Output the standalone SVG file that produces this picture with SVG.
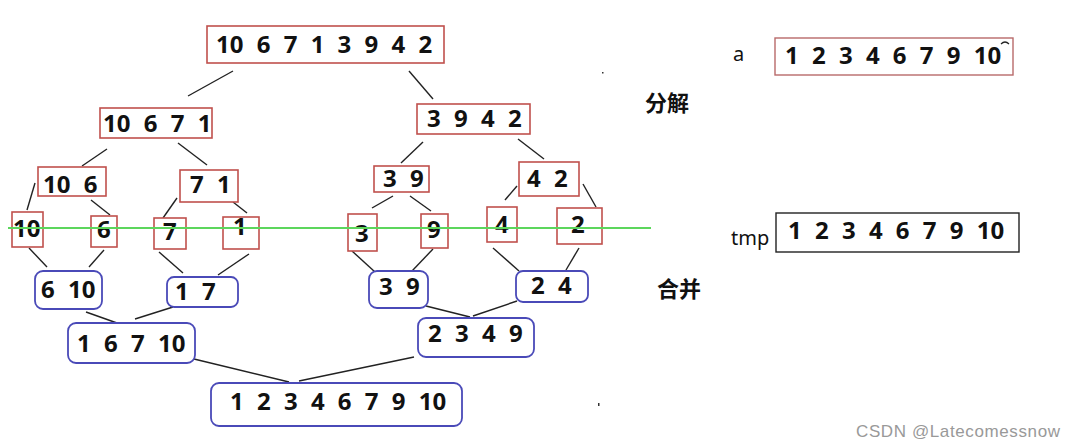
<svg xmlns="http://www.w3.org/2000/svg" width="1076" height="448" viewBox="0 0 1076 448">
<style>
.r{fill:#fff;stroke:#c0504d;stroke-width:1.6}
.b{fill:#fff;stroke:#4a4ab8;stroke-width:1.8}
.t{font-family:"Noto Sans","Open Sans",sans-serif;font-weight:bold;font-size:24px;fill:#111;word-spacing:7px}
.c line{stroke:#222;stroke-width:1.4}
.cn{font-family:"Noto Sans CJK SC","Noto Sans",sans-serif;font-weight:bold;font-size:22px;fill:#111}
.lb{font-family:"Noto Sans","Open Sans",sans-serif;font-size:20px;fill:#111}
</style>
<rect width="1076" height="448" fill="#fff"/>
<g class="c" id="connectors">
<line x1="233" y1="71" x2="188" y2="96"/>
<line x1="409" y1="71" x2="433" y2="99"/>
<line x1="107" y1="149" x2="82" y2="166"/>
<line x1="178" y1="143" x2="207" y2="165"/>
<line x1="35" y1="183" x2="27" y2="210"/>
<line x1="91" y1="200" x2="110" y2="215"/>
<line x1="177" y1="198" x2="163" y2="218"/>
<line x1="233" y1="202" x2="247" y2="213"/>
<line x1="423" y1="142" x2="401" y2="163"/>
<line x1="518" y1="139" x2="544" y2="159"/>
<line x1="393" y1="196" x2="372" y2="208"/>
<line x1="410" y1="196" x2="431" y2="211"/>
<line x1="517" y1="186" x2="505" y2="200"/>
<line x1="583" y1="184" x2="596" y2="207"/>
<line x1="29" y1="248" x2="47" y2="267"/>
<line x1="104" y1="250" x2="89" y2="267"/>
<line x1="159" y1="252" x2="183" y2="273"/>
<line x1="249" y1="254" x2="218" y2="275"/>
<line x1="352" y1="251" x2="375" y2="272"/>
<line x1="433" y1="249" x2="412" y2="271"/>
<line x1="493" y1="248" x2="519" y2="271"/>
<line x1="579" y1="248" x2="566" y2="270"/>
<line x1="86" y1="312" x2="117" y2="323"/>
<line x1="173" y1="307" x2="135" y2="319"/>
<line x1="426" y1="306" x2="470" y2="317"/>
<line x1="517" y1="301" x2="473" y2="316"/>
<line x1="194" y1="359" x2="289" y2="382"/>
<line x1="414" y1="357" x2="299" y2="381"/>
</g>
<g id="n-top"><rect class="r" x="207" y="26" width="237" height="37"/><text class="t" x="216" y="53">10 6 7 1 3 9 4 2</text></g>
<g id="n-10671"><rect class="r" x="100" y="108" width="112" height="30"/><text class="t" x="103" y="132">10 6 7 1</text></g>
<g id="n-3942"><rect class="r" x="417" y="104" width="113" height="30"/><text class="t" x="427" y="127">3 9 4 2</text></g>
<g id="n-106"><rect class="r" x="38" y="167" width="68" height="29"/><text class="t" x="43" y="193">10 6</text></g>
<g id="n-71"><rect class="r" x="180" y="170" width="58" height="32"/><text class="t" x="190" y="193">7 1</text></g>
<g id="n-39a"><rect class="r" x="374" y="166" width="55" height="26"/><text class="t" x="383" y="187">3 9</text></g>
<g id="n-42a"><rect class="r" x="519" y="162" width="60" height="34"/><text class="t" x="527" y="187">4 2</text></g>
<g id="n-10"><rect class="r" x="12" y="212" width="31" height="35"/><text class="t" x="13" y="237">10</text></g>
<g id="n-6"><rect class="r" x="91" y="216" width="26" height="31"/><text class="t" x="97" y="238">6</text></g>
<g id="n-7"><rect class="r" x="154" y="218" width="32" height="31"/><text class="t" x="163" y="240">7</text></g>
<g id="n-1"><rect class="r" x="223" y="217" width="36" height="32"/><text class="t" x="233" y="235">1</text></g>
<g id="n-3"><rect class="r" x="348" y="214" width="29" height="37"/><text class="t" x="355" y="242">3</text></g>
<g id="n-9"><rect class="r" x="421" y="214" width="27" height="34"/><text class="t" x="427" y="238">9</text></g>
<g id="n-4"><rect class="r" x="487" y="207" width="30" height="35"/><text class="t" x="495" y="233">4</text></g>
<g id="n-2"><rect class="r" x="557" y="208" width="45" height="36"/><text class="t" x="571" y="233">2</text></g>
<line x1="8" y1="228" x2="651" y2="228" stroke="#5cd65c" stroke-width="2"/>
<g id="m-610"><rect class="b" x="35" y="271" width="67" height="38" rx="8"/><text class="t" x="41" y="298">6 10</text></g>
<g id="m-17"><rect class="b" x="167" y="277" width="71" height="30" rx="7"/><text class="t" x="175" y="300">1 7</text></g>
<g id="m-39"><rect class="b" x="369" y="271" width="59" height="37" rx="8"/><text class="t" x="379" y="295">3 9</text></g>
<g id="m-24"><rect class="b" x="516" y="271" width="72" height="31" rx="7"/><text class="t" x="531" y="294">2 4</text></g>
<g id="m-16710"><rect class="b" x="68" y="323" width="127" height="40" rx="8"/><text class="t" x="77" y="352">1 6 7 10</text></g>
<g id="m-2349"><rect class="b" x="418" y="318" width="116" height="39" rx="8"/><text class="t" x="428" y="342">2 3 4 9</text></g>
<g id="m-all"><rect class="b" x="211" y="383" width="251" height="43" rx="8"/><text class="t" x="230" y="410">1 2 3 4 6 7 9 10</text></g>
<g id="lbl-fenjie"><text class="cn" x="645" y="111">分解</text></g>
<g id="lbl-hebing"><text class="cn" x="657" y="297">合并</text></g>
<g id="arr-a"><text class="lb" x="733" y="61">a</text><rect x="775" y="38" width="238" height="37" fill="#fff" stroke="#b86a6a" stroke-width="1.4"/><text class="t" x="785" y="64">1 2 3 4 6 7 9 10</text><path d="M1001,44 Q1005,40 1009,44" fill="none" stroke="#222" stroke-width="1.2"/></g>
<g id="arr-tmp"><text class="lb" x="731" y="245">tmp</text><rect x="776" y="213" width="243" height="39" fill="#fff" stroke="#222" stroke-width="1.4"/><text class="t" x="788" y="239">1 2 3 4 6 7 9 10</text></g>
<rect x="602" y="72" width="1.5" height="1.5" fill="#333"/>
<rect x="598" y="403" width="1.5" height="3" fill="#333"/>
<text x="856" y="437" font-family="Liberation Sans, Arial, sans-serif" font-size="17" fill="#999" textLength="204">CSDN @Latecomessnow</text>
</svg>
